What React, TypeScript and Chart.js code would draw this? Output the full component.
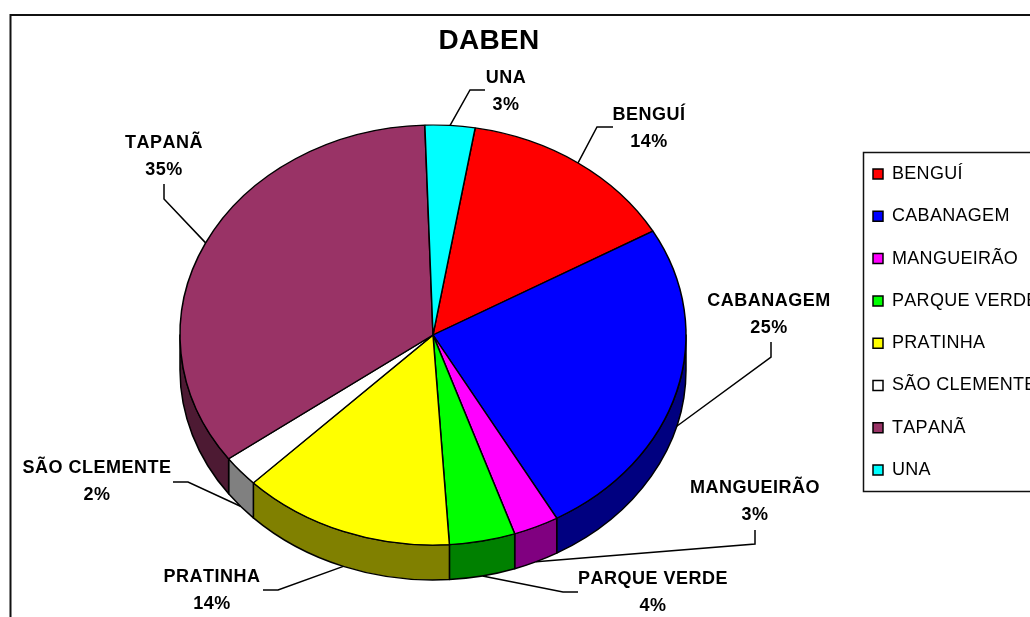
import React, { useEffect, useRef } from "react";
import { Chart, registerables } from "chart.js";

Chart.register(...registerables);

const categories = ["BENGUÍ", "CABANAGEM", "MANGUEIRÃO", "PARQUE VERDE", "PRATINHA", "SÃO CLEMENTE", "TAPANÃ", "UNA"];
const shares = [14.1, 25.1, 2.9, 4.2, 13.6, 2.4, 34.52, 3.18];
const topColors = ["#FF0000", "#0000FF", "#FF00FF", "#00FF00", "#FFFF00", "#FFFFFF", "#993366", "#00FFFF"];
const wallColors = ["#800000", "#000080", "#800080", "#008000", "#808000", "#808080", "#4D1A33", "#008080"];
const chartTitle = "DABEN";

// Callout layout: label centre, first baseline, and leader elbow + end
const labelCx = [649, 769, 755, 653, 212, 97, 164, 506];
const labelY = [120, 306, 493, 584, 582, 473, 148, 83];
const elbowX = [597, 771, 755, 563, 278, 188, 164, 470];
const elbowY = [127, 357, 544, 592, 590, 482, 199, 90];
const endX = [613, 771, 755, 578, 263, 173, 164, 485];
const endY = [127, 342, 530, 592, 590, 482, 184, 90];

const FONT = "'Liberation Sans', Arial, sans-serif";
const RX = 253;
const RY = 210;
const DEPTH = 35;
const TAU = Math.PI * 2;

const pie3d = {
  id: "pie3d",
  afterLayout(chart: any) {
    chart.chartArea = { left: 180, right: 686, top: 82, bottom: 588, width: 506, height: 506 };
    const t = chart.titleBlock;
    t.left = 389; t.right = 589; t.top = 24; t.bottom = 58;
    const l = chart.legend;
    const p = l.options.labels.padding;
    l.left = 873 - p; l.top = 174 - 9 - p; l.right = 1030; l.bottom = 617;
  },
  beforeDraw(chart: any) {
    const c = chart.ctx;
    c.fontKerning = "none";
    c.letterSpacing = "0.3px";
    c.save();
    c.fillStyle = "#FFFFFF";
    c.fillRect(0, 0, chart.width, chart.height);
    c.strokeStyle = "#111111";
    c.lineWidth = 2;
    c.strokeRect(10.5, 15, 1100, 700);
    c.lineWidth = 1.5;
    c.strokeRect(863.5, 152.5, 300, 339);
    c.restore();
  },
  beforeDatasetsDraw(chart: any) {
    const c = chart.ctx;
    const arcs = chart.getDatasetMeta(0).data;
    c.save();
    c.strokeStyle = "#000000";
    c.lineWidth = 1.5;
    c.lineJoin = "round";
    arcs.forEach((arc: any, i: number) => {
      const { x, y, startAngle, endAngle } = arc.getProps(["x", "y", "startAngle", "endAngle"], true);
      [-TAU, 0, TAU].forEach((k) => {
        const a = Math.max(startAngle + k, 0);
        const b = Math.min(endAngle + k, Math.PI);
        if (b <= a) return;
        c.beginPath();
        c.ellipse(x, y, RX, RY, 0, a, b);
        c.ellipse(x, y + DEPTH, RX, RY, 0, b, a, true);
        c.closePath();
        c.fillStyle = wallColors[i];
        c.fill();
        c.stroke();
      });
    });
    c.restore();
    // squash the library's own circular arcs into the tilted top face
    const first = arcs[0];
    c.save();
    c.translate(first.x, first.y);
    c.scale(RX / first.outerRadius, RY / first.outerRadius);
    c.translate(-first.x, -first.y);
  },
  afterDatasetsDraw(chart: any) {
    chart.ctx.restore();
  },
  afterDraw(chart: any) {
    const c = chart.ctx;
    const arcs = chart.getDatasetMeta(0).data;
    const total = shares.reduce((s, v) => s + v, 0);
    c.save();
    c.letterSpacing = "0.5px";
    arcs.forEach((arc: any, i: number) => {
      const { x, y, startAngle, endAngle } = arc.getProps(["x", "y", "startAngle", "endAngle"], true);
      const mid = (startAngle + endAngle) / 2;
      const sx = x + RX * Math.cos(mid);
      const sy = y + RY * Math.sin(mid) + (Math.sin(mid) > 0 ? DEPTH : 0);
      c.strokeStyle = "#000000";
      c.lineWidth = 1.5;
      c.beginPath();
      c.moveTo(sx, sy);
      c.lineTo(elbowX[i], elbowY[i]);
      c.lineTo(endX[i], endY[i]);
      c.stroke();
      c.fillStyle = "#000000";
      c.font = `bold 18px ${FONT}`;
      c.textAlign = "center";
      c.textBaseline = "alphabetic";
      c.fillText(categories[i], labelCx[i], labelY[i]);
      c.fillText(`${Math.round((shares[i] / total) * 100)}%`, labelCx[i], labelY[i] + 26.5);
    });
    c.restore();
  },
};

export default function App() {
  const ref = useRef<HTMLCanvasElement>(null);
  useEffect(() => {
    const chart = new Chart(ref.current as HTMLCanvasElement, {
      type: "pie",
      data: {
        labels: categories,
        datasets: [
          {
            data: shares,
            backgroundColor: topColors,
            borderColor: "#000000",
            borderWidth: 1.5,
            clip: false,
          } as any,
        ],
      },
      options: {
        responsive: false,
        animation: false,
        rotation: 9.6,
        plugins: {
          title: {
            display: true,
            text: chartTitle,
            color: "#000000",
            padding: 0,
            font: { family: FONT, size: 28, weight: "bold" },
          },
          legend: {
            display: true,
            position: "right",
            align: "start",
            labels: {
              boxWidth: 10,
              boxHeight: 10,
              padding: 24.3,
              color: "#000000",
              font: { family: FONT, size: 18 },
            },
          },
          tooltip: { enabled: false },
        },
      },
      plugins: [pie3d],
    });
    return () => chart.destroy();
  }, []);
  return (
    <canvas
      ref={ref}
      width={1030}
      height={617}
      style={{ position: "fixed", left: 0, top: 0, display: "block" }}
    />
  );
}
